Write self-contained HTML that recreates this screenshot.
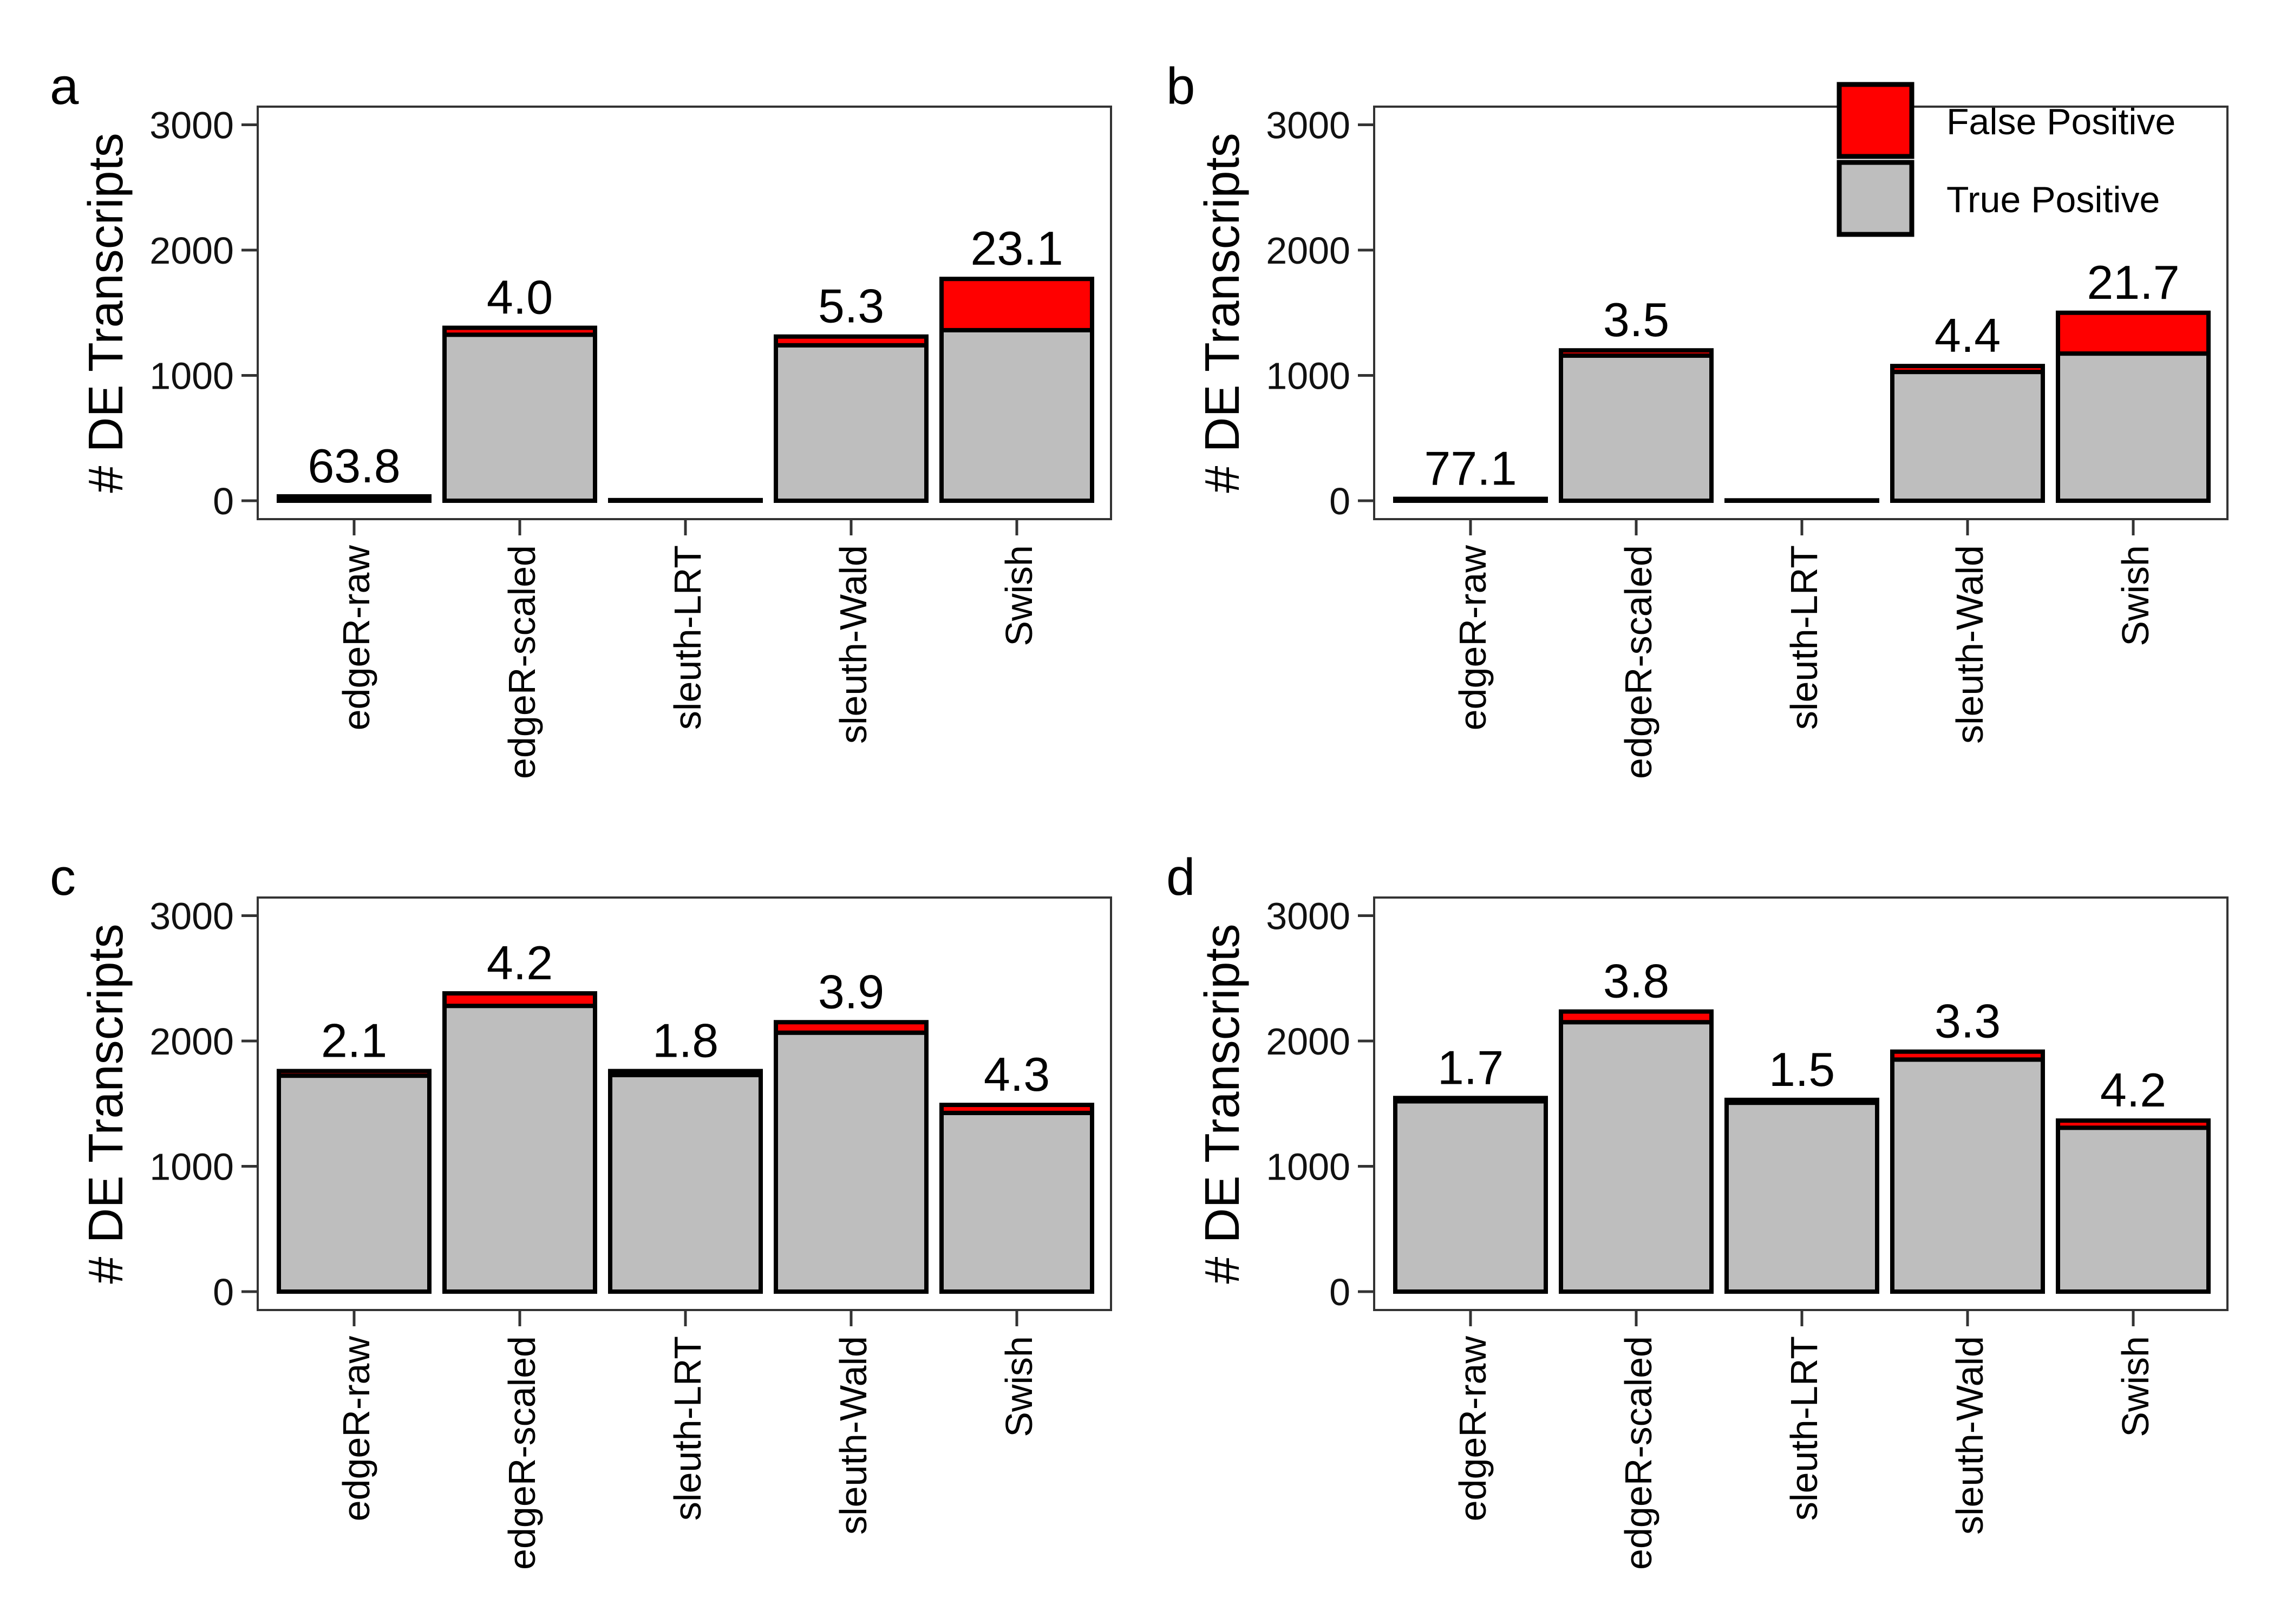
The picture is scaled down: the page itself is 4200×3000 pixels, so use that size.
<!DOCTYPE html>
<html><head><meta charset="utf-8"><style>
html,body{margin:0;padding:0;background:#fff;}
svg{display:block;font-family:"Liberation Sans",Arial,sans-serif;}
</style></head><body>
<svg id="fig" width="4200" height="3000" viewBox="0 0 4200 3000" xmlns="http://www.w3.org/2000/svg">
<g>
<rect x="3397" y="156" width="134" height="133" fill="#ff0000" stroke="#000" stroke-width="9"/>
<rect x="3397" y="300" width="134" height="133" fill="#bebebe" stroke="#000" stroke-width="9"/>
<text x="3595" y="248" font-size="68">False Positive</text>
<text x="3595" y="392" font-size="68">True Positive</text>
</g>
</svg>
<script>
const categories = ["edgeR-raw","edgeR-scaled","sleuth-LRT","sleuth-Wald","Swish"];
const panelLetters = ["a","b","c","d"];
const totalsA = [35, 1380, 5, 1310, 1770];
const fdrA = [63.8, 4.0, null, 5.3, 23.1];
const totalsB = [15, 1200, 3, 1075, 1500];
const fdrB = [77.1, 3.5, null, 4.4, 21.7];
const totalsC = [1760, 2380, 1760, 2150, 1490];
const fdrC = [2.1, 4.2, 1.8, 3.9, 4.3];
const totalsD = [1545, 2235, 1530, 1915, 1365];
const fdrD = [1.7, 3.8, 1.5, 3.3, 4.2];
const yTicks = [0, 1000, 2000, 3000];

const NS = "http://www.w3.org/2000/svg";
const svg = document.getElementById("fig");
const legend = svg.firstElementChild;
function mk(tag, attrs, parent){
  const e = document.createElementNS(NS, tag);
  for (const k in attrs) e.setAttribute(k, attrs[k]);
  parent.appendChild(e);
  return e;
}
const panels = [
  {L:476, T:197, totals: totalsA, fdr: fdrA},
  {L:2538, T:197, totals: totalsB, fdr: fdrB},
  {L:476, T:1658, totals: totalsC, fdr: fdrC},
  {L:2538, T:1658, totals: totalsD, fdr: fdrD}
];
const W = 1576, H = 762;
panels.forEach((p, pi) => {
  const g = mk("g", {}, svg);
  
  
  const y = v => p.T + 728 - v * 0.2315;
  const x = i => p.L + 178 + i * 306;
  const box = mk("rect", {x:p.L, y:p.T, width:W, height:H, fill:"none", stroke:"#333", "stroke-width":4}, g);
  
  
  const lt = mk("text", {x:p.L-384, y:p.T-5, "font-size":96}, g);
  lt.textContent = panelLetters[pi];
  
  
  const yt = mk("text", {x:0, y:0, "font-size":90, "text-anchor":"middle", transform:`translate(${p.L-250},${p.T+H/2}) rotate(-90)`}, g);
  yt.textContent = "# DE Transcripts";
  
  
  yTicks.forEach(v => {
    const tk = mk("line", {x1:p.L-30, x2:p.L, y1:y(v), y2:y(v), stroke:"#333", "stroke-width":5}, g);
    
    
    const tl = mk("text", {x:p.L-44, y:y(v)+25, "font-size":70, "text-anchor":"end", fill:"#111"}, g);
    tl.textContent = v;
    
    
  });
  categories.forEach((c, i) => {
    const cx = x(i), bw = 278;
    const tot = p.totals[i];
    const f = p.fdr[i];
    const fp = f == null ? 0 : tot * f / 100;
    const tp = tot - fp;
    const tpr = mk("rect", {x:cx-bw/2, y:y(tp), width:bw, height:Math.max(0, y(0)-y(tp)), fill:"#bebebe", stroke:"#000", "stroke-width":8}, g);
    
    
    if (fp > 0) {
      const fpr = mk("rect", {x:cx-bw/2, y:y(tot), width:bw, height:y(tp)-y(tot), fill:"#ff0000", stroke:"#000", "stroke-width":8}, g);
      
      
    }
    if (f != null) {
      const vl = mk("text", {x:cx, y:y(tot)-26, "font-size":88, "text-anchor":"middle"}, g);
      vl.textContent = f.toFixed(1);
      
      
    }
    const xt = mk("line", {x1:cx, x2:cx, y1:p.T+H, y2:p.T+H+30, stroke:"#333", "stroke-width":5}, g);
    
    
    const xl = mk("text", {x:0, y:0, "font-size":70, "text-anchor":"end", transform:`translate(${cx+28},${p.T+H+48}) rotate(-90)`}, g);
    xl.textContent = c;
    
    
  });
});
svg.appendChild(legend);
</script>
</body></html>
